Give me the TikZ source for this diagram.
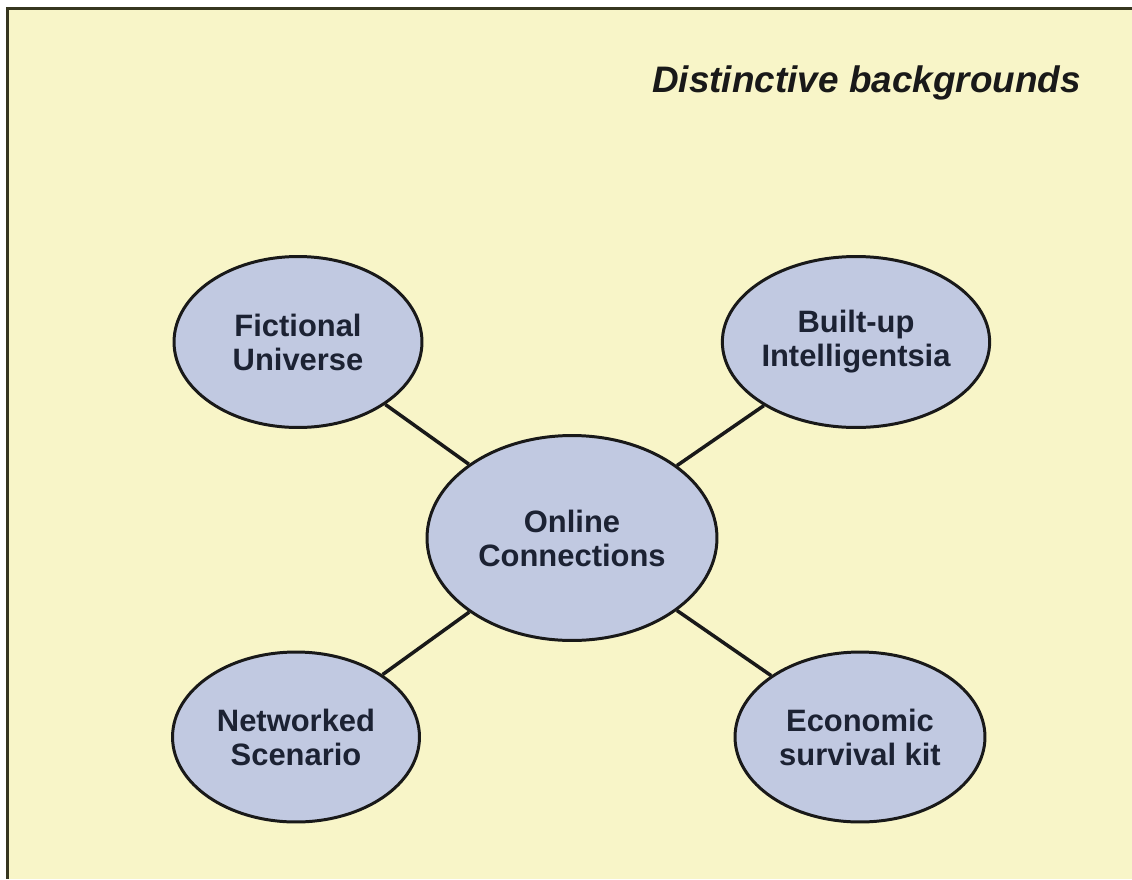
\documentclass[tikz,border=0pt]{standalone}
\usepackage{fontspec}
\setmainfont{Liberation Sans}
\usetikzlibrary{shapes.geometric}
\definecolor{paper}{HTML}{F8F5C8}
\definecolor{bubble}{HTML}{C1C9E1}
\definecolor{ink}{HTML}{1C2233}
\definecolor{frame}{HTML}{36361F}
\begin{document}
\begin{tikzpicture}[x=0.02cm,y=-0.02cm,
    bubble/.style={ellipse,draw=black!90,line width=1.7pt,fill=bubble,inner sep=0pt,
      text=ink,align=center,font=\bfseries\fontsize{17.6}{19.4}\selectfont},
    link/.style={line width=2pt,draw=black!90}]
        \useasboundingbox (0,0) rectangle (1132,879);
        \fill[white] (0,0) rectangle (1132,879);
        \fill[paper] (7,7) rectangle (1132,879);
        \draw[frame,line width=2pt] (1132,8.5) -- (7.5,8.5) -- (7.5,879);

        \node[anchor=base east,text=black!90,font=\bfseries\itshape\fontsize{21}{24}\selectfont] (T) at (1087,92) {Distinctive backgrounds};

        \node[bubble,minimum width=5.8cm,minimum height=4.1cm] (O) at (572,538) {Online\\Connections};
        \node[bubble,minimum width=4.96cm,minimum height=3.42cm] (F) at (298,342) {Fictional\\Universe};
        \node[bubble,minimum width=4.96cm,minimum height=3.42cm] (B) at (856,342) {Built-up\\Intelligentsia};
        \node[bubble,minimum width=4.94cm,minimum height=3.4cm] (N) at (296,737) {Networked\\Scenario};
        \node[bubble,minimum width=5cm,minimum height=3.4cm] (E) at (860,737) {Economic\\survival kit};

        \draw[link] (O) -- (F);
        \draw[link] (O) -- (B);
        \draw[link] (O) -- (N);
        \draw[link] (O) -- (E);
\end{tikzpicture}
\end{document}
